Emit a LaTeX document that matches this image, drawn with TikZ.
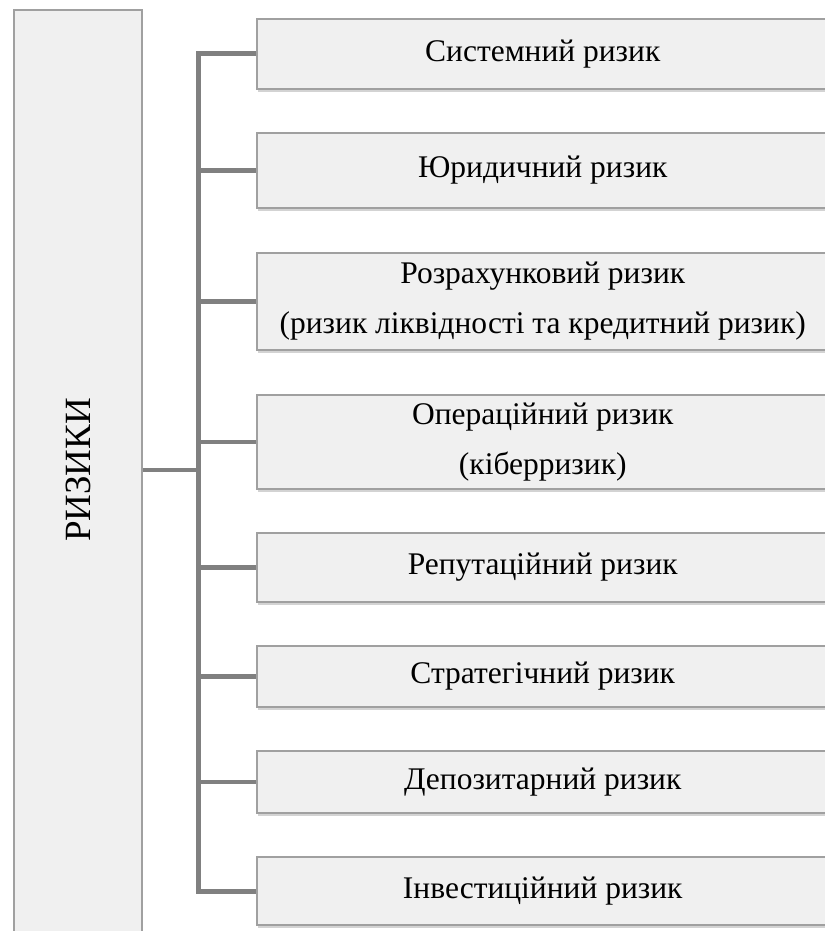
\documentclass[tikz,border=0pt]{standalone}
\usepackage{fontspec}
\setmainfont{Liberation Serif}
\usetikzlibrary{shadows}
\usetikzlibrary{positioning}
\definecolor{boxfill}{HTML}{F0F0F0}
\definecolor{boxline}{HTML}{A0A0A0}
\definecolor{busline}{HTML}{808080}
\tikzstyle{riskbox}=[rectangle,draw=boxline,line width=1.5pt,fill=boxfill,align=center,anchor=west,minimum width=572pt,inner sep=0pt,font=\fontsize{31.5}{50}\selectfont,drop shadow={shadow xshift=1pt,shadow yshift=-3pt,opacity=0.35}]
\tikzstyle{mainbox}=[rectangle,draw=boxline,line width=1.5pt,fill=boxfill,minimum width=128pt,minimum height=930pt,inner sep=0pt,font=\fontsize{37}{40}\selectfont,drop shadow={shadow xshift=1pt,shadow yshift=-3pt,opacity=0.35}]
\tikzstyle{bus} = [draw=busline,line width=4.5pt]
\begin{document}
\begin{tikzpicture}[x=1pt,y=-1pt]
\useasboundingbox (0,0) rectangle (824,931);

 %main box
 \node[mainbox] (risks) at (78,475) {\rotatebox{90}{\hspace*{10pt}РИЗИКИ}};

 \coordinate (spine) at (198,0);
 \coordinate (hub) at (198,470);

 %risk types
 \foreach \y/\h/\name/\label in {54/70/b1/{Системний ризик}, 170.5/75/b2/{Юридичний ризик},
    301.5/97/b3/{Розрахунковий ризик\\(ризик ліквідності та кредитний ризик)},
    442/94/b4/{Операційний ризик\\(кіберризик)}, 567.5/69/b5/{Репутаційний ризик},
    676.5/61/b6/{Стратегічний ризик}, 782/62/b7/{Депозитарний ризик},
    891/68/b8/{Інвестиційний ризик}}
      \node[riskbox, minimum height=\h pt] (\name) at (256,\y) {\label};

 %connectors
 \draw[bus, line width=5pt] (b1.west) -- (b1.west -| spine) -- (b8.west -| spine) -- (b8.west);
 \foreach \name in {b2,b3,b4,b5,b6,b7}
      \draw[bus] (\name.west -| spine) -- (\name.west);
 \draw[bus] (risks.east |- hub) -- (hub);

\end{tikzpicture}
\end{document}
